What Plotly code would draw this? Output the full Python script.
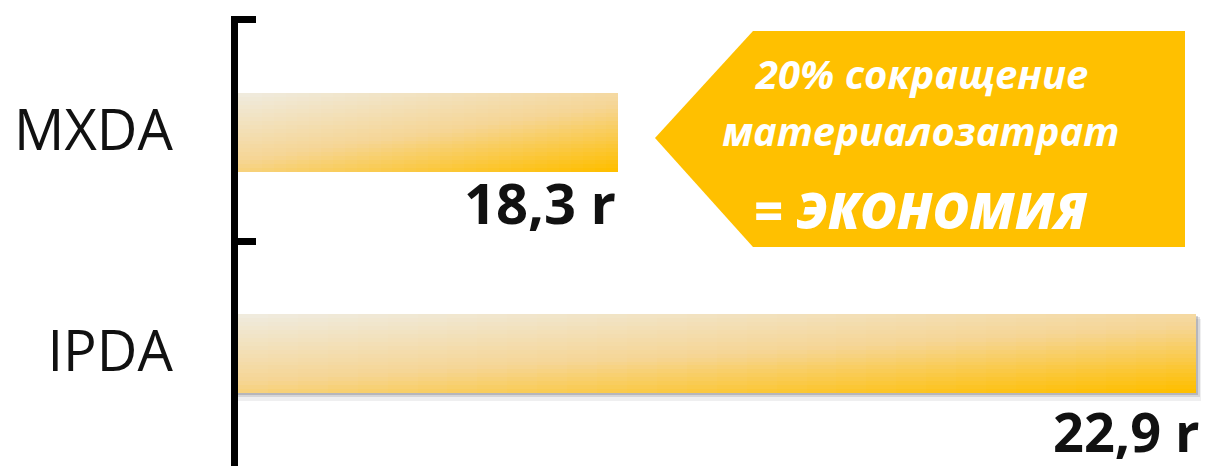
import plotly.graph_objects as go

# ---- data ----
categories = ["MXDA", "IPDA"]
values = [18.3, 22.9]
unit = "r"
callout_lines = ["20% сокращение", "материалозатрат", "= ЭКОНОМИЯ"]

# ---- layout constants ----
OFF = 8  # page body margin
W, H = 1209 - OFF, 466 - OFF
ML, MR, MT, MB = 230, 0, 8, 0
X0 = 15.27
PX_PER_UNIT = 125.5
X1 = X0 + (W - ML - MR) / PX_PER_UNIT
PW, PH = W - ML - MR, H - MT - MB
EY = 0.018
PX_PER_CAT = PH / (len(categories) + 2 * EY)

def pxx(px):
    return (px - OFF - ML) / PW

def pxy(py):
    return 1 - (py - OFF - MT) / PH

def lerp(a, b, t):
    return tuple(a[k] + (b[k] - a[k]) * t for k in range(3))

C0 = (240, 235, 221)
C1 = (246, 214, 150)
C2 = (255, 191, 0)

def grad(t):
    if t < 0.5:
        c = lerp(C0, C1, t / 0.5)
    else:
        c = lerp(C1, C2, (t - 0.5) / 0.5)
    return "rgb(%d,%d,%d)" % c

BAR_W = 0.355
NV, NH = 20, 32

fig = go.Figure()

# shadow for second bar
for grow, alpha in [(7, 0.10), (4, 0.18), (2, 0.28)]:
    dx = grow / PX_PER_UNIT
    dy = grow / PX_PER_CAT
    fig.add_trace(go.Bar(
        y=[categories[1]], x=[values[1] - X0 + dx], base=[X0],
        orientation="h", width=BAR_W + dy * 0.5, offset=-BAR_W / 2 + dy * 0.6 + 0.01,
        marker=dict(color="rgba(100,100,110,%.2f)" % alpha, line=dict(width=0)),
        hoverinfo="skip", showlegend=False))

lengths = [v - X0 for v in values]
for i in range(NV):
    fv = i / (NV - 1)
    off = -BAR_W / 2 + BAR_W * i / NV + 0.01
    wid = BAR_W - BAR_W * i / NV
    for j in range(NH):
        fh = j / (NH - 1)
        t = 0.58 * fv + 0.42 * fh
        fig.add_trace(go.Bar(
            y=categories,
            x=[L * (1 - j / NH) for L in lengths],
            base=[X0 + L * j / NH for L in lengths],
            orientation="h", width=wid, offset=off,
            marker=dict(color=grad(t), line=dict(width=0)),
            hoverinfo="skip", showlegend=False))

# value labels
LBL_XSHIFT = [0, 6]
LBL_YSHIFT = [-72, -79]
LBL_SIZE = [56, 54]
for k, (c, v) in enumerate(zip(categories, values)):
    fig.add_annotation(
        x=v, y=c, xref="x", yref="y",
        text=("%.1f" % v).replace(".", ",") + " " + unit,
        showarrow=False, xanchor="right", yanchor="middle",
        xshift=LBL_XSHIFT[k], yshift=LBL_YSHIFT[k],
        font=dict(family="Open Sans", size=LBL_SIZE[k], color="#111111", weight="bold"))

# callout arrow shape
pts = [(655, 138), (753, 31), (1185, 31), (1185, 247), (753, 247)]
path = "M " + " L ".join("%.5f,%.5f" % (pxx(a), pxy(b)) for a, b in pts) + " Z"
fig.add_shape(type="path", path=path, xref="paper", yref="paper",
              fillcolor="#FFC000", line=dict(width=0), layer="above")

cx = 921
for txt, yc, sz, wt in zip(callout_lines, [73, 131, 210], [40, 40, 50], [700, 700, 800]):
    fig.add_annotation(
        x=pxx(cx), y=pxy(yc), xref="paper", yref="paper", text=txt,
        showarrow=False, xanchor="center", yanchor="middle",
        font=dict(family="Open Sans", size=sz, color="white",
                  weight=wt, style="italic"))

fig.update_layout(
    width=W, height=H,
    margin=dict(l=ML, r=MR, t=MT, b=MB, autoexpand=False),
    paper_bgcolor="white", plot_bgcolor="white",
    barmode="overlay", bargap=0,
    showlegend=False,
    xaxis=dict(range=[X0, X1], visible=False, fixedrange=True, automargin=False),
    yaxis=dict(
        type="category", categoryorder="array", categoryarray=categories,
        range=[len(categories) - 0.5 + EY, -0.5 - EY],
        automargin=False,
        showline=True, linecolor="black", linewidth=7,
        ticks="inside", ticklen=18, tickwidth=7, tickcolor="black",
        tickson="boundaries", showgrid=False, zeroline=False,
        ticklabelstandoff=47,
        tickfont=dict(family="Open Sans", size=56, color="#111111"),
    ),
)

fig.write_html("out.html")
